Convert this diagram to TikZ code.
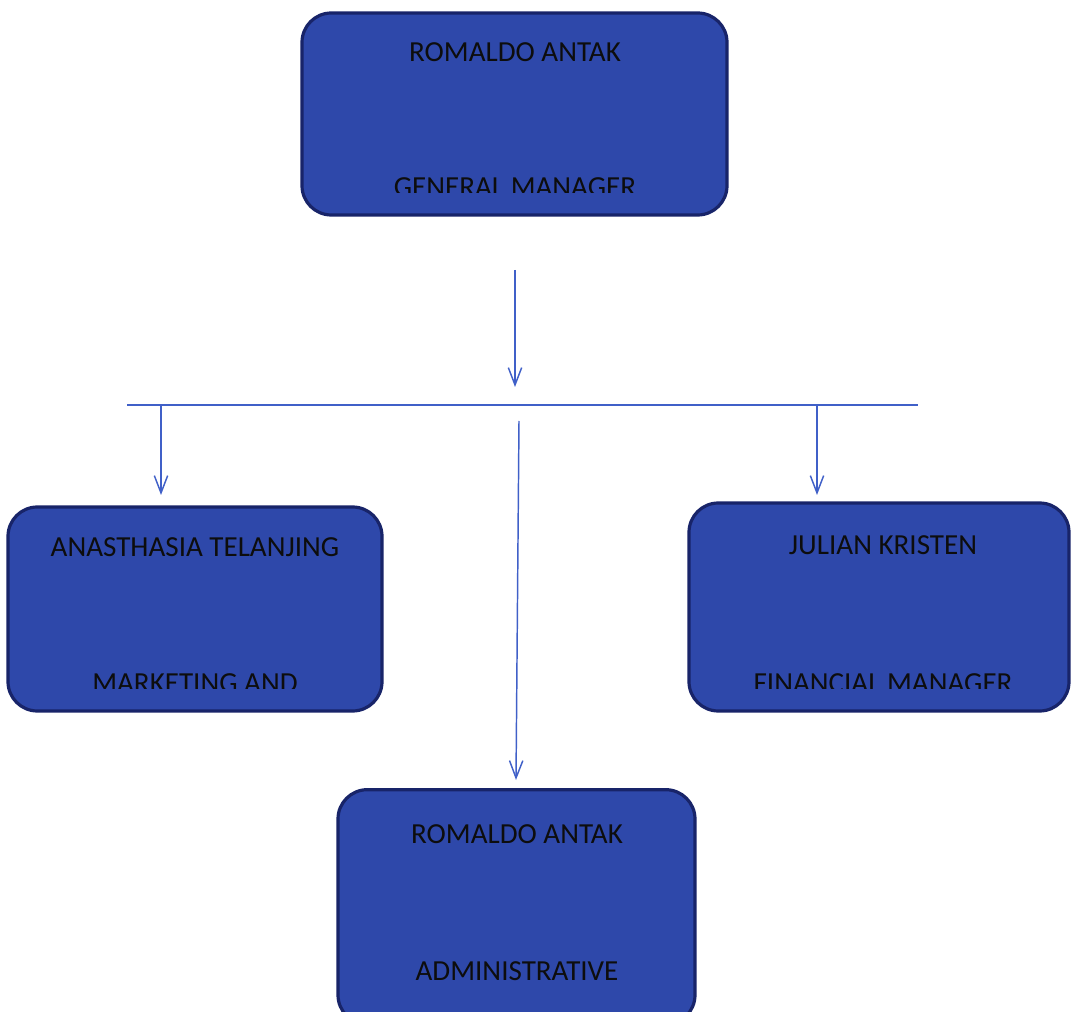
\documentclass[tikz,border=0pt]{standalone}
\usepackage{fontspec}
\setmainfont{Carlito}
\usetikzlibrary{arrows.meta}
\definecolor{boxfill}{RGB}{46,72,170}
\definecolor{boxline}{RGB}{24,36,105}
\definecolor{connc}{RGB}{64,96,200}
\begin{document}
\begin{tikzpicture}[x=0.75pt,y=-0.75pt,
  box/.style={draw=boxline, line width=2.4pt, fill=boxfill, rounded corners=22pt, rectangle, inner sep=0pt},
  lbl/.style={font=\fontsize{21.8}{26}\selectfont, text=black!95, anchor=base, inner sep=0pt},
  conn/.style={draw=connc, line width=1.1pt},
  arr/.style={conn, -{Straight Barb[length=13pt,width=10pt,line width=1.1pt]}}]
\useasboundingbox (0,0) rectangle (1072,1012);
\begin{scope}
\clip (0,0) rectangle (1072,1012);
% boxes
\node[box, minimum width=318.75pt, minimum height=151.5pt] (gm) at (514.5,114) {};
\node[box, minimum width=280.5pt, minimum height=153pt] (mk) at (195,609) {};
\node[box, minimum width=285pt, minimum height=156pt] (fm) at (879,607) {};
\node[box, minimum width=267.75pt, minimum height=176pt] (ad) at (516.5,907) {};
% names
\node[lbl] (gmname) at (515,62) {ROMALDO ANTAK};
\node[lbl] (mkname) at (195,557) {ANASTHASIA TELANJING};
\node[lbl] (fmname) at (883,555) {JULIAN KRISTEN};
\node[lbl] (adname) at (517,843) {ROMALDO ANTAK};
\node[lbl] (adrole) at (517,980) {ADMINISTRATIVE};
% clipped roles
\begin{scope}
\clip (302,13) rectangle (727,193);
\node[lbl] (gmrole) at (515,197) {GENERAL MANAGER};
\end{scope}
\begin{scope}
\clip (8,507) rectangle (382,688);
\node[lbl] (mkrole) at (195,692) {MARKETING AND};
\end{scope}
\begin{scope}
\clip (689,503) rectangle (1069,688);
\node[lbl] (fmrole) at (883,692) {FINANCIAL MANAGER};
\end{scope}
% connector points
\coordinate (topS) at (515,270);
\coordinate (topE) at (515,387);
\coordinate (busL) at (127,405);
\coordinate (busR) at (918,405);
\coordinate (lS) at (161,405);
\coordinate (lE) at (161,495);
\coordinate (rS) at (817,405);
\coordinate (rE) at (817,495);
\coordinate (mS) at (519,421);
\coordinate (mE) at (516,780);
% connectors
\draw[arr] (topS) -- (topE);
\draw[conn] (busL) -- (busR);
\draw[arr] (lS) -- (lE);
\draw[arr] (rS) -- (rE);
\draw[arr] (mS) -- (mE);
\end{scope}
\end{tikzpicture}
\end{document}
